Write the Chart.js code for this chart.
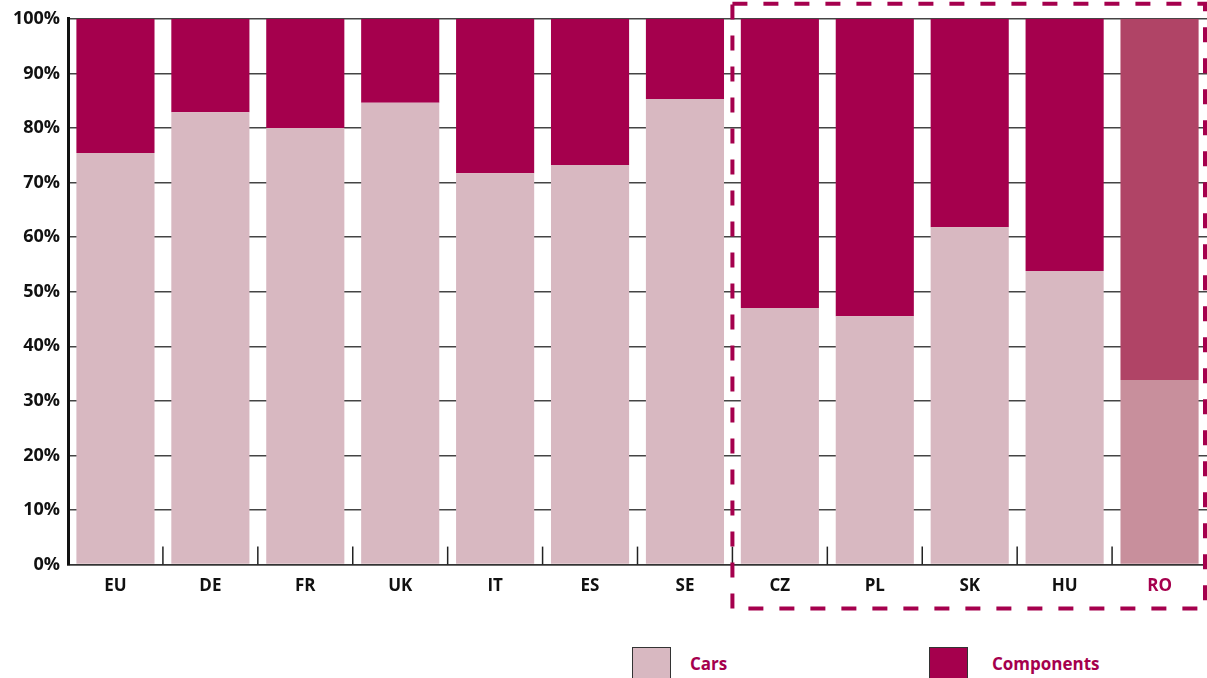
<!DOCTYPE html>
<html>
<head>
<meta charset="utf-8">
<script src="https://cdn.jsdelivr.net/npm/chart.js@4"></script>
<style>
  body { margin: 0; background: #fff; font-family: "Open Sans", sans-serif; }
  #wrap { position: relative; width: 1207px; height: 678px; overflow: hidden; }
  .key { position: absolute; top: 647px; width: 37px; height: 36px; border: 1px solid #333; }
  .lbl { position: absolute; top: 652px; font-weight: bold; font-size: 17px; color: #a5004d; }
</style>
</head>
<body>
<div id="wrap">
  <canvas id="chart" width="1207" height="640"></canvas>
  <div class="key" style="left:632px;background:#d8b8c1"></div>
  <div class="lbl" style="left:690px">Cars</div>
  <div class="key" style="left:929px;background:#a5004d"></div>
  <div class="lbl" style="left:992px">Components</div>
</div>
<script>
const countries = ["EU", "DE", "FR", "UK", "IT", "ES", "SE", "CZ", "PL", "SK", "HU", "RO"];
const cars = [75.4, 82.9, 80.0, 84.6, 71.7, 73.2, 85.3, 47.0, 45.5, 61.8, 53.8, 33.8];
const components = [24.6, 17.1, 20.0, 15.4, 28.3, 26.8, 14.7, 53.0, 54.5, 38.2, 46.2, 66.2];
const yTicks = [0, 10, 20, 30, 40, 50, 60, 70, 80, 90, 100];
const highlightFrom = 7; // CZ onwards sits in the dashed box

const carColors = countries.map(c => c === "RO" ? "#c88f9c" : "#d8b8c1");
const compColors = countries.map(c => c === "RO" ? "#b04466" : "#a5004d");

// short tick marks between categories + dashed box round the new members
const extras = {
  id: "extras",
  afterDatasetsDraw(chart) {
    const { ctx, chartArea, scales } = chart;
    const x = scales.x;
    const step = x.getPixelForValue(1) - x.getPixelForValue(0);
    ctx.save();
    ctx.strokeStyle = "#222";
    ctx.lineWidth = 1.5;
    for (let i = 1; i < countries.length; i++) {
      const bx = x.getPixelForValue(i) - step / 2;
      ctx.beginPath();
      ctx.moveTo(bx, chartArea.bottom);
      ctx.lineTo(bx, chartArea.bottom - 18);
      ctx.stroke();
    }
    const left = x.getPixelForValue(highlightFrom) - step / 2;
    const right = x.getPixelForValue(countries.length - 1) + step / 2 - 2;
    ctx.strokeStyle = "#a5004d";
    ctx.lineWidth = 4;
    ctx.setLineDash([15, 16]);
    ctx.strokeRect(left, chartArea.top - 15, right - left, chartArea.bottom - chartArea.top + 59);
    ctx.restore();
  }
};

new Chart(document.getElementById("chart").getContext("2d"), {
  type: "bar",
  data: {
    labels: countries,
    datasets: [
      { label: "Cars", data: cars, backgroundColor: carColors, barPercentage: 0.823, categoryPercentage: 1 },
      { label: "Components", data: components, backgroundColor: compColors, barPercentage: 0.823, categoryPercentage: 1 }
    ]
  },
  options: {
    responsive: false,
    animation: false,
    layout: { padding: { top: 12, right: 0, bottom: 41, left: 0 } },
    plugins: { legend: { display: false }, tooltip: { enabled: false } },
    scales: {
      x: {
        stacked: true,
        grid: { display: false },
        border: { color: "#333", width: 1.5 },
        ticks: {
          font: { family: "Open Sans", weight: "bold", size: 17 },
          color: c => c.index === countries.length - 1 ? "#a5004d" : "#111",
          padding: 3
        }
      },
      y: {
        stacked: true,
        min: 0,
        max: 100,
        afterBuildTicks: axis => { axis.ticks = yTicks.map(v => ({ value: v })); },
        afterFit: axis => { axis.width = 68; },
        grid: { color: "#444", lineWidth: 1.5, drawTicks: false },
        border: { color: "#111", width: 3 },
        ticks: {
          font: { family: "Open Sans", weight: "bold", size: 18 },
          color: "#111",
          padding: 8,
          callback: v => v + "%"
        }
      }
    }
  },
  plugins: [extras]
});
</script>
</body>
</html>
